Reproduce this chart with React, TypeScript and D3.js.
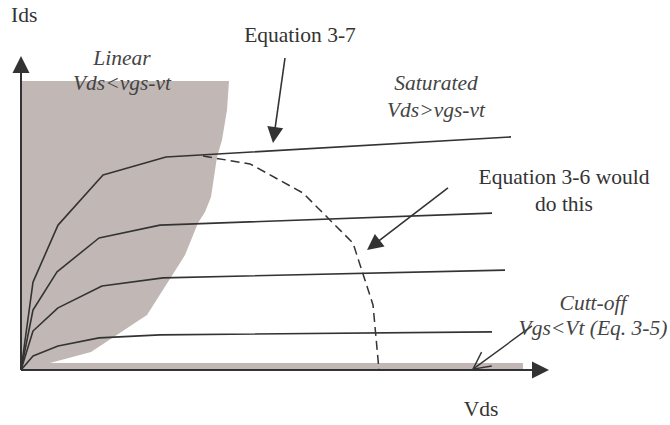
import React from "react";
import * as d3 from "d3";

// ---- data (Vds, Ids) in arbitrary units ----
const curveA: [number, number][] = [[0, 0], [0.24, 2.93], [0.74, 4.83], [1.64, 6.5], [2.9, 7.1], [9.8, 7.77]];
const curveB: [number, number][] = [[0, 0], [0.24, 2.0], [0.72, 3.27], [1.56, 4.4], [2.78, 4.83], [9.42, 5.23]];
const curveC: [number, number][] = [[0, 0], [0.24, 1.3], [0.74, 2.07], [1.62, 2.8], [2.84, 3.07], [9.68, 3.33]];
const curveD: [number, number][] = [[0, 0], [0.24, 0.47], [0.74, 0.8], [1.56, 1.07], [2.78, 1.17], [9.42, 1.27]];
const curves = [curveA, curveB, curveC, curveD];

const eq36Curve: [number, number][] = [[3.64, 7.13], [4.58, 6.87], [5.64, 5.9], [6.64, 4.23], [7.04, 2.17], [7.16, 0]];

const linearRegion: [number, number][] = [
  [0, 9.63], [4.16, 9.63], [4.12, 8.67], [4.02, 7.67], [3.92, 7.1], [3.8, 5.77], [3.68, 5.27],
  [3.54, 4.9], [3.28, 3.83], [3.18, 3.57], [2.52, 1.83], [1.4, 0.6], [0.58, 0.23],
  [10.04, 0.23], [10.04, 0], [0, 0],
];

// arrows: [from, to]
const arrowEq37: [[number, number], [number, number]] = [[5.28, 10.4], [5.04, 7.57]];
const arrowEq36: [[number, number], [number, number]] = [[8.54, 6.07], [6.92, 4.0]];
const arrowCutoff: [[number, number], [number, number]] = [[10.22, 1.47], [9.04, 0.03]];

const W = 670, H = 425;
const x = d3.scaleLinear().domain([0, 10]).range([21, 521]);
const y = d3.scaleLinear().domain([0, 10]).range([370, 70]);

const line = d3.line<[number, number]>().x(d => x(d[0])).y(d => y(d[1]));

const INK = "#333";
const SHADE = "#c1b8b5";

function headPoly(fx: number, fy: number, tx: number, ty: number, len = 16, hw = 8) {
  const dx = tx - fx, dy = ty - fy;
  const L = Math.hypot(dx, dy);
  const ux = dx / L, uy = dy / L;
  const bx = tx - ux * len, by = ty - uy * len;
  const px = -uy, py = ux;
  return `${tx},${ty} ${bx + px * hw},${by + py * hw} ${bx - px * hw},${by - py * hw}`;
}

function FilledArrow({ a }: { a: [[number, number], [number, number]] }) {
  const fx = x(a[0][0]), fy = y(a[0][1]), tx = x(a[1][0]), ty = y(a[1][1]);
  const L = Math.hypot(tx - fx, ty - fy);
  const ex = tx - ((tx - fx) / L) * 12, ey = ty - ((ty - fy) / L) * 12;
  return (
    <g>
      <line x1={fx} y1={fy} x2={ex} y2={ey} stroke={INK} strokeWidth={1.6} />
      <polygon points={headPoly(fx, fy, tx, ty)} fill={INK} />
    </g>
  );
}

function OpenArrow({ a }: { a: [[number, number], [number, number]] }) {
  const fx = x(a[0][0]), fy = y(a[0][1]), tx = x(a[1][0]), ty = y(a[1][1]);
  const ang = Math.atan2(fy - ty, fx - tx);
  const len = 19, spread = (27 * Math.PI) / 180;
  const b1 = [tx + len * Math.cos(ang - spread), ty + len * Math.sin(ang - spread)];
  const b2 = [tx + len * Math.cos(ang + spread), ty + len * Math.sin(ang + spread)];
  return (
    <g stroke={INK} strokeWidth={1.4} fill="none">
      <line x1={fx} y1={fy} x2={tx} y2={ty} />
      <polyline points={`${b1[0]},${b1[1]} ${tx},${ty} ${b2[0]},${b2[1]}`} />
    </g>
  );
}

export default function App() {
  const fontStyleN = { fontFamily: '"Liberation Serif", "DejaVu Serif", serif', fontSize: "21.5px" };
  const x0 = x(0), y0 = y(0);
  return (
    <svg width={W} height={H} style={{ position: "absolute", left: 0, top: 0, background: "#fff" }}>
      <rect width={W} height={H} fill="#fff" />
      <path d={line(linearRegion) + "Z"} fill={SHADE} stroke="none" />
      {/* axes */}
      <line x1={x0} y1={y0} x2={x0} y2={72} stroke={INK} strokeWidth={2} />
      <polygon points={headPoly(x0, y0, x0, 56, 17, 8.5)} fill={INK} />
      <line x1={x0} y1={y0} x2={534} y2={y0} stroke={INK} strokeWidth={2} />
      <polygon points={headPoly(x0, y0, 549, y0, 17, 8.5)} fill={INK} />
      {/* curves */}
      {curves.map((c, i) => (
        <path key={i} d={line(c) || ""} fill="none" stroke={INK} strokeWidth={1.6} strokeLinejoin="round" />
      ))}
      <path d={line(eq36Curve) || ""} fill="none" stroke={INK} strokeWidth={1.5} strokeDasharray="9,5" />
      <FilledArrow a={arrowEq37} />
      <FilledArrow a={arrowEq36} />
      <OpenArrow a={arrowCutoff} />
      {/* text */}
      <g style={fontStyleN} fill={INK}>
        <text x={11} y={22}>Ids</text>
        <text x={300} y={42} textAnchor="middle">Equation 3-7</text>
        <text x={564} y={184} textAnchor="middle">Equation 3-6 would</text>
        <text x={564} y={211} textAnchor="middle">do this</text>
        <text x={481} y={416} textAnchor="middle">Vds</text>
      </g>
      <g style={{ ...fontStyleN, fontStyle: "italic" }} fill="#444" textAnchor="middle">
        <text x={122} y={65}>Linear</text>
        <text x={122} y={90}>Vds&lt;vgs-vt</text>
        <text x={436} y={90}>Saturated</text>
        <text x={436} y={117}>Vds&gt;vgs-vt</text>
        <text x={593} y={310}>Cutt-off</text>
        <text x={593} y={335}>Vgs&lt;Vt (Eq. 3-5)</text>
      </g>
    </svg>
  );
}
